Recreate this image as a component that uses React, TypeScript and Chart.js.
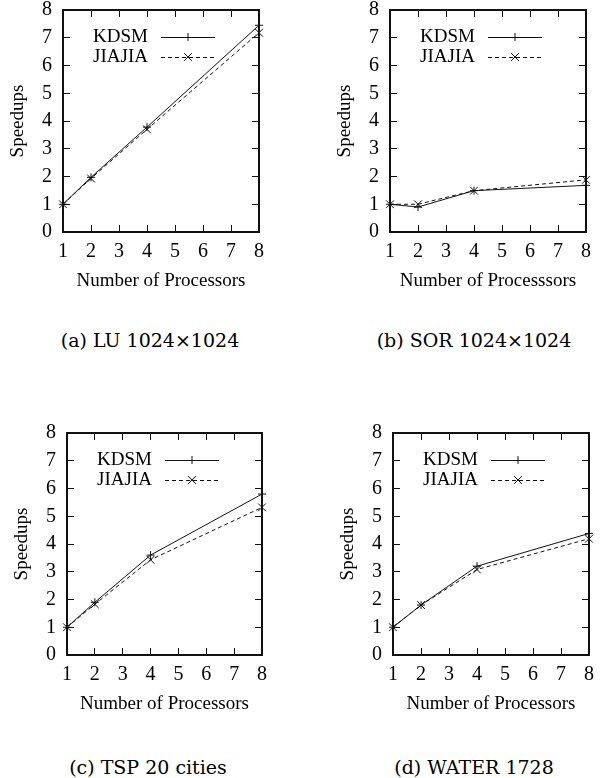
import React, { useEffect, useRef } from "react";
import { Chart, registerables } from "chart.js";

Chart.register(...registerables);

// ---------- data ----------
const processors = [1, 2, 4, 8];
const xTickValues = [1, 2, 3, 4, 5, 6, 7, 8];
const yTickValues = [0, 1, 2, 3, 4, 5, 6, 7, 8];
const seriesNames = ["KDSM", "JIAJIA"];

const luKDSM = [1, 1.97, 3.78, 7.45];
const luJIAJIA = [1, 1.93, 3.7, 7.18];
const sorKDSM = [1, 0.9, 1.49, 1.68];
const sorJIAJIA = [1, 1.0, 1.49, 1.88];
const tspKDSM = [1, 1.9, 3.6, 5.8];
const tspJIAJIA = [1, 1.83, 3.43, 5.32];
const waterKDSM = [1, 1.8, 3.2, 4.38];
const waterJIAJIA = [1, 1.8, 3.08, 4.19];

const yTitle = "Speedups";
const xTitles = [
  "Number of Processors",
  "Number of Processsors",
  "Number of Processors",
  "Number of Processors",
];
const captions = ["(a) LU 1024×1024", "(b) SOR 1024×1024", "(c) TSP 20 cities", "(d) WATER 1728"];

const panelSeries = [
  [luKDSM, luJIAJIA],
  [sorKDSM, sorJIAJIA],
  [tspKDSM, tspJIAJIA],
  [waterKDSM, waterJIAJIA],
];

// ---------- layout (positions only) ----------
const CANVAS = 300;
const boxes = [
  { left: 0, top: 0, plotLeft: 63, plotRight: 259, plotTop: 10, plotBottom: 232, capX: 150, capY: 340 },
  { left: 300, top: 0, plotLeft: 90, plotRight: 286, plotTop: 10, plotBottom: 232, capX: 474, capY: 340 },
  { left: 0, top: 420, plotLeft: 67, plotRight: 262, plotTop: 13, plotBottom: 235, capX: 148, capY: 767 },
  { left: 300, top: 420, plotLeft: 93, plotRight: 289, plotTop: 13, plotBottom: 235, capX: 474, capY: 767 },
];

const SERIF = '"Liberation Serif", "Times New Roman", serif';
const INK = "#111";
const Y_AXIS_W = 56;
const X_AXIS_H = 60;
const TICK = -7;

const legendPlugin = {
  id: "gpLegend",
  afterDraw(chart: any) {
    const { ctx, chartArea } = chart;
    chart.data.datasets.forEach((ds: any, i: number) => {
      const y = chartArea.top + 27 + i * 20;
      const x0 = chartArea.left + 98;
      const x1 = chartArea.left + 152;
      const cx = (x0 + x1) / 2;
      ctx.save();
      ctx.font = `19px ${SERIF}`;
      ctx.fillStyle = "#000";
      ctx.textAlign = "right";
      ctx.textBaseline = "middle";
      ctx.fillText(ds.label, chartArea.left + 85, y);
      ctx.strokeStyle = ds.borderColor;
      ctx.lineWidth = 1;
      ctx.setLineDash(ds.borderDash || []);
      ctx.beginPath();
      ctx.moveTo(x0, y + 0.5);
      ctx.lineTo(x1, y + 0.5);
      ctx.stroke();
      ctx.setLineDash([]);
      ctx.beginPath();
      if (ds.pointStyle === "cross") {
        const r = ds.pointRadius;
        ctx.moveTo(cx - r, y + 0.5);
        ctx.lineTo(cx + r, y + 0.5);
        ctx.moveTo(cx, y - r);
        ctx.lineTo(cx, y + r);
      } else {
        const r = ds.pointRadius * Math.SQRT1_2;
        ctx.moveTo(cx - r, y - r);
        ctx.lineTo(cx + r, y + r);
        ctx.moveTo(cx - r, y + r);
        ctx.lineTo(cx + r, y - r);
      }
      ctx.stroke();
      ctx.restore();
    });
  },
};

function Panel({ index }: { index: number }) {
  const ref = useRef<HTMLCanvasElement | null>(null);
  const box = boxes[index];
  useEffect(() => {
    if (!ref.current) return;
    const [kdsm, jiajia] = panelSeries[index];
    const tickFont = { family: SERIF, size: 20, lineHeight: 1.2 };
    const titleFont = { family: SERIF, size: 19, lineHeight: 1.2 };
    const chart = new Chart(ref.current, {
      type: "line",
      data: {
        datasets: [
          {
            label: seriesNames[0],
            data: processors.map((p, i) => ({ x: p, y: kdsm[i] })),
            borderColor: INK,
            borderWidth: 1,
            pointStyle: "cross",
            pointRadius: 4,
            pointBorderWidth: 1,
            pointBorderColor: INK,
            pointBackgroundColor: INK,
            fill: false,
            tension: 0,
            clip: false,
          } as any,
          {
            label: seriesNames[1],
            data: processors.map((p, i) => ({ x: p, y: jiajia[i] })),
            borderColor: INK,
            borderWidth: 1,
            borderDash: [4, 3],
            pointStyle: "crossRot",
            pointRadius: 5.5,
            pointBorderWidth: 1,
            pointBorderColor: INK,
            pointBackgroundColor: INK,
            fill: false,
            tension: 0,
            clip: false,
          } as any,
        ],
      },
      options: {
        animation: false,
        responsive: false,
        devicePixelRatio: 1,
        layout: {
          padding: {
            left: box.plotLeft - Y_AXIS_W,
            right: CANVAS - box.plotRight,
            top: box.plotTop,
            bottom: CANVAS - box.plotBottom - X_AXIS_H,
          },
        },
        plugins: { legend: { display: false }, tooltip: { enabled: false } },
        scales: {
          x: {
            type: "linear",
            position: "bottom",
            min: 1,
            max: 8,
            afterBuildTicks: (s: any) => {
              s.ticks = xTickValues.map((v) => ({ value: v }));
            },
            afterFit: (s: any) => {
              s.height = X_AXIS_H;
              s.paddingLeft = 0;
              s.paddingRight = 0;
            },
            grid: { drawOnChartArea: false, drawTicks: true, tickLength: TICK, color: INK, tickWidth: 1 },
            border: { display: true, color: INK, width: 2 },
            ticks: { color: "#000", font: tickFont, padding: 15, maxRotation: 0, autoSkip: false },
            title: { display: true, text: xTitles[index], color: "#000", font: titleFont, padding: { top: 0, bottom: 0 } },
          },
          x2: {
            type: "linear",
            position: "top",
            min: 1,
            max: 8,
            afterBuildTicks: (s: any) => {
              s.ticks = xTickValues.map((v) => ({ value: v }));
            },
            afterFit: (s: any) => {
              s.height = 0;
              s.paddingLeft = 0;
              s.paddingRight = 0;
            },
            grid: { drawOnChartArea: false, drawTicks: true, tickLength: TICK, color: INK, tickWidth: 1 },
            border: { display: true, color: INK, width: 2 },
            ticks: { display: false },
          },
          y: {
            type: "linear",
            position: "left",
            min: 0,
            max: 8,
            afterBuildTicks: (s: any) => {
              s.ticks = yTickValues.map((v) => ({ value: v }));
            },
            afterFit: (s: any) => {
              s.width = Y_AXIS_W;
              s.paddingTop = 0;
              s.paddingBottom = 0;
            },
            grid: { drawOnChartArea: false, drawTicks: true, tickLength: TICK, color: INK, tickWidth: 1 },
            border: { display: true, color: INK, width: 2 },
            ticks: { color: "#000", font: tickFont, padding: 18 },
            title: { display: true, text: yTitle, color: "#000", font: titleFont, padding: { top: 0, bottom: 0 } },
          },
          y2: {
            type: "linear",
            position: "right",
            min: 0,
            max: 8,
            afterBuildTicks: (s: any) => {
              s.ticks = yTickValues.map((v) => ({ value: v }));
            },
            afterFit: (s: any) => {
              s.width = 0;
              s.paddingTop = 0;
              s.paddingBottom = 0;
            },
            grid: { drawOnChartArea: false, drawTicks: true, tickLength: TICK, color: INK, tickWidth: 1 },
            border: { display: true, color: INK, width: 2 },
            ticks: { display: false },
          },
        },
      } as any,
      plugins: [legendPlugin],
    });
    return () => chart.destroy();
  }, [index]);

  return (
    <>
      <canvas
        ref={ref}
        width={CANVAS}
        height={CANVAS}
        style={{ position: "absolute", left: box.left, top: box.top, width: CANVAS, height: CANVAS, display: "block" }}
      />
      <div
        style={{
          position: "absolute",
          left: box.capX - 150,
          width: 300,
          top: box.capY - 12,
          height: 24,
          lineHeight: "24px",
          textAlign: "center",
          fontFamily: '"DejaVu Serif", serif',
          fontSize: 19,
          color: "#000",
          whiteSpace: "nowrap",
        }}
      >
        {captions[index]}
      </div>
    </>
  );
}

export default function App() {
  return (
    <div style={{ position: "absolute", left: 0, top: 0, width: 601, height: 778, background: "#fff", overflow: "hidden" }}>
      {boxes.map((_, i) => (
        <Panel key={i} index={i} />
      ))}
    </div>
  );
}
